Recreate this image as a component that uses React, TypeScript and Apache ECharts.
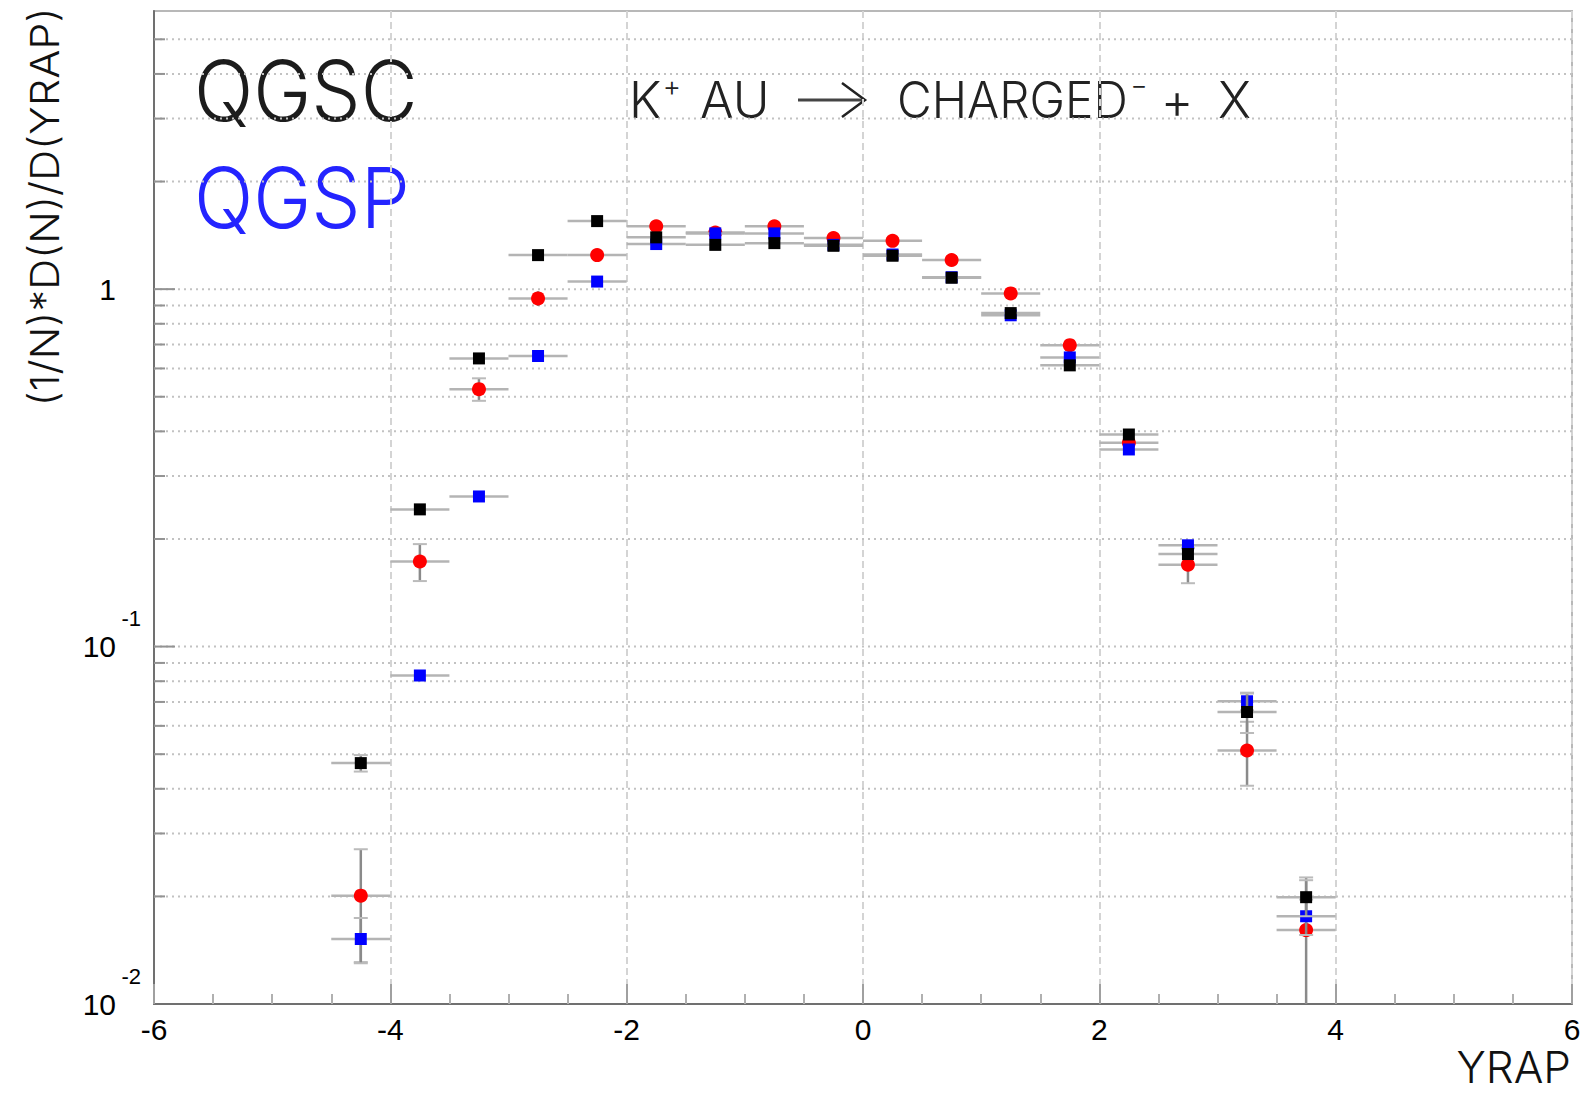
import React, { useEffect, useRef } from "react";
import * as echarts from "echarts";

// Bin centres (YRAP) and bin half width
const xCenters = [-4.25, -3.75, -3.25, -2.75, -2.25, -1.75, -1.25, -0.75, -0.25, 0.25, 0.75, 1.25, 1.75, 2.25, 2.75, 3.25, 3.75];
const halfWidth = 0.25;

// QGSC (black squares)
const qgscValues = [0.0472, 0.242, 0.64, 1.245, 1.55, 1.396, 1.33, 1.345, 1.322, 1.24, 1.076, 0.857, 0.612, 0.392, 0.1815, 0.0656, 0.0199];
const qgscErrors = [0.0025, 0.006, 0.01, 0.012, 0.012, 0.012, 0.012, 0.012, 0.012, 0.012, 0.01, 0.01, 0.008, 0.006, 0.004, 0.0083, 0.0023];

// QGSP (blue squares)
const qgspValues = [0.0152, 0.083, 0.263, 0.65, 1.05, 1.337, 1.432, 1.432, 1.33, 1.25, 1.08, 0.845, 0.644, 0.356, 0.192, 0.0703, 0.0176];
const qgspErrors = [0.0022, 0.003, 0.006, 0.01, 0.012, 0.012, 0.012, 0.012, 0.012, 0.012, 0.01, 0.01, 0.008, 0.006, 0.004, 0.004, 0.002];

// Data (red circles)
const dataValues = [0.0201, 0.173, 0.525, 0.942, 1.245, 1.5, 1.44, 1.5, 1.39, 1.365, 1.206, 0.973, 0.697, 0.372, 0.1694, 0.0512, 0.0161];
const dataErrors = [0.007, 0.0205, 0.038, 0.045, 0.03, 0.03, 0.03, 0.03, 0.03, 0.03, 0.025, 0.02, 0.015, 0.01, 0.019, 0.0104, 0.0065];

// Axis settings
const xMin = -6;
const xMax = 6;
const xStep = 2;
const yMin = 0.01;
const yMax = 6;
const yGridValues = [0.02, 0.03, 0.04, 0.05, 0.06, 0.07, 0.08, 0.09, 0.1, 0.2, 0.3, 0.4, 0.5, 0.6, 0.7, 0.8, 0.9, 1, 2, 3, 4, 5];

const LIGHT = "Inter";
const TICKFONT = "Liberation Sans";

function errorSeries(name: string, ys: number[], errs: number[], color: string, marker: "rect" | "circle") {
  return {
    type: "custom",
    name,
    coordinateSystem: "cartesian2d",
    z: 3,
    silent: true,
    encode: { x: 0, y: 1 },
    data: xCenters.map((x, i) => [x, ys[i], errs[i]]),
    renderItem: (params: any, api: any) => {
      const x = api.value(0);
      const y = api.value(1);
      const e = api.value(2);
      const c = api.coord([x, y]);
      const l = api.coord([x - halfWidth, y]);
      const r = api.coord([x + halfWidth, y]);
      const lowV = Math.max(y - e, yMin);
      const lo = api.coord([x, lowV]);
      const hi = api.coord([x, y + e]);
      const children: any[] = [
        { type: "line", shape: { x1: l[0], y1: c[1], x2: r[0], y2: c[1] }, style: { stroke: "#b4b4b4", lineWidth: 2.5 } },
        { type: "line", shape: { x1: c[0], y1: lo[1], x2: c[0], y2: hi[1] }, style: { stroke: "#8a8a8a", lineWidth: 2.5 } },
      ];
      if (c[1] - hi[1] > 8) {
        children.push({ type: "line", shape: { x1: c[0] - 7, y1: hi[1], x2: c[0] + 7, y2: hi[1] }, style: { stroke: "#bbbbbb", lineWidth: 2 } });
      }
      if (y - e > yMin && lo[1] - c[1] > 8) {
        children.push({ type: "line", shape: { x1: c[0] - 7, y1: lo[1], x2: c[0] + 7, y2: lo[1] }, style: { stroke: "#bbbbbb", lineWidth: 2 } });
      }
      if (marker === "rect") {
        children.push({ type: "rect", shape: { x: c[0] - 6, y: c[1] - 6, width: 12, height: 12 }, style: { fill: color } });
      } else {
        children.push({ type: "circle", shape: { cx: c[0], cy: c[1], r: 7 }, style: { fill: color } });
      }
      return { type: "group", children };
    },
  };
}

const gridSeries = {
  type: "custom",
  coordinateSystem: "cartesian2d",
  z: 1,
  silent: true,
  encode: { x: 0, y: 1 },
  data: yGridValues.map((v) => [xMin, v]),
  renderItem: (params: any, api: any) => {
    const v = api.value(1);
    const a = api.coord([xMin, v]);
    const b = api.coord([xMax, v]);
    const lg = Math.log10(v);
    const major = Math.abs(lg - Math.round(lg)) < 1e-6;
    return {
      type: "group",
      children: [
        { type: "line", shape: { x1: a[0], y1: a[1], x2: b[0], y2: a[1] }, style: { stroke: "#c2c2c2", lineWidth: 2, lineDash: [2, 4] } },
        { type: "line", shape: { x1: a[0], y1: a[1], x2: a[0] + (major ? 21 : 11), y2: a[1] }, style: { stroke: "#939393", lineWidth: 2 } },
      ],
    };
  },
};

function txt(text: string, x: number, y: number, size: number, color: string, align: string, extra: any = {}, vAlign = "middle") {
  return {
    type: "text",
    x,
    y,
    silent: true,
    ...extra,
    style: {
      text,
      fontSize: size,
      fontFamily: LIGHT,
      fontWeight: 300,
      fill: color,
      align,
      textAlign: align,
      verticalAlign: vAlign,
      textVerticalAlign: vAlign,
    },
  };
}

export default function App() {
  const ref = useRef<HTMLDivElement>(null);
  useEffect(() => {
    if (!ref.current) return;
    const chart = echarts.init(ref.current, undefined, { renderer: "svg" });
    const option: any = {
      animation: false,
      backgroundColor: "#ffffff",
      grid: { left: 154, right: 13, top: 11, bottom: 94, show: true, borderColor: "#b8b8b8", borderWidth: 2, backgroundColor: "transparent" },
      xAxis: {
        type: "value",
        min: xMin,
        max: xMax,
        interval: xStep,
        axisLine: { show: true, onZero: false, lineStyle: { color: "#707070", width: 2 } },
        axisTick: { show: true, inside: true, length: 20, lineStyle: { color: "#a0a0a0", width: 2 } },
        minorTick: { show: true, splitNumber: 4, length: 10, lineStyle: { color: "#b0b0b0", width: 2 } },
        splitLine: { show: true, lineStyle: { color: "#d4d4d4", width: 2, type: [7, 4] } },
        axisLabel: { fontSize: 30, margin: 10, color: "#000", fontFamily: TICKFONT },
      },
      yAxis: {
        type: "log",
        logBase: 10,
        min: yMin,
        max: yMax,
        axisLine: { show: true, onZero: false, lineStyle: { color: "#707070", width: 2 } },
        axisTick: { show: false },
        splitLine: { show: false },
        axisLabel: {
          showMaxLabel: false,
          margin: 13,
          padding: [0, 0, 28, 0],
          verticalAlign: "middle",
          color: "#000",
          fontFamily: TICKFONT,
          formatter: (v: number) => {
            const e = Math.round(Math.log10(v));
            if (e === 0) return "{e| }\n{b|1}";
            return `{e|${e}}\n{b|10}`;
          },
          rich: {
            e: { fontSize: 22, lineHeight: 28, fontFamily: TICKFONT, color: "#000" },
            b: { fontSize: 30, lineHeight: 28, fontFamily: TICKFONT, color: "#000", padding: [0, 25, 0, 0] },
          },
        },
      },
      series: [
        gridSeries,
        errorSeries("Data", dataValues, dataErrors, "#ff0000", "circle"),
        errorSeries("QGSP", qgspValues, qgspErrors, "#0000ff", "rect"),
        errorSeries("QGSC", qgscValues, qgscErrors, "#000000", "rect"),
      ],
      graphic: [
        txt("QGSC", 194, 90, 84, "#1c1c1c", "left", { scaleX: 0.93 }),
        txt("QGSP", 194, 197, 84, "#2424ff", "left", { scaleX: 0.93 }),
        txt("K", 629, 100, 50, "#222", "left"),
        txt("+", 672, 86, 28, "#222", "center"),
        txt("AU", 700, 100, 50, "#222", "left"),
        { type: "line", silent: true, shape: { x1: 798, y1: 100, x2: 863, y2: 100 }, style: { stroke: "#444", lineWidth: 3 } },
        { type: "polyline", silent: true, shape: { points: [[842, 83], [865, 100], [842, 117]] }, style: { stroke: "#222", lineWidth: 2.5, fill: "none" } },
        txt("CHARGED", 897, 100, 50, "#222", "left", { scaleX: 0.955 }),
        txt("\u2212", 1139, 84, 26, "#222", "center"),
        txt("+", 1177, 101, 50, "#222", "center"),
        txt("X", 1218, 100, 50, "#222", "left"),
        txt("(1/N)*D(N)/D(YRAP)", 45, 207, 40, "#111", "center", { rotation: Math.PI / 2, scaleX: 1.08 }),
        txt("YRAP", 1571, 1067, 44, "#111", "right"),
      ],
    };
    chart.setOption(option);
    return () => chart.dispose();
  }, []);
  return <div ref={ref} style={{ position: "fixed", left: 0, top: 0, width: 1585, height: 1098, background: "#fff" }} />;
}
